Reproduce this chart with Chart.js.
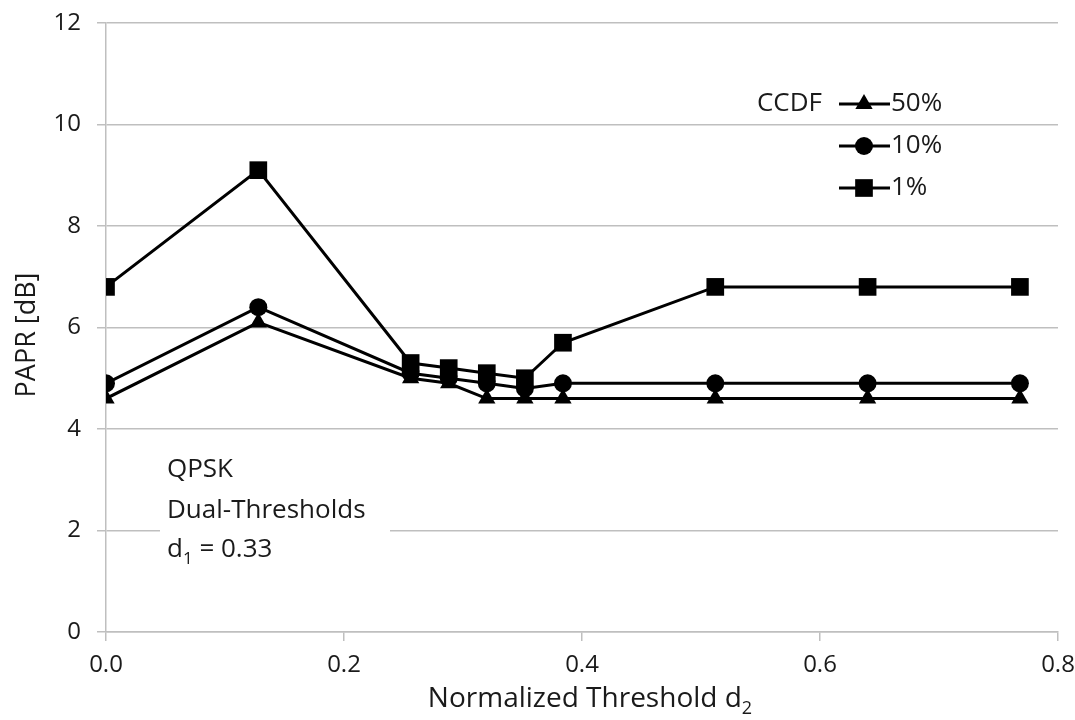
<!DOCTYPE html>
<html>
<head>
<meta charset="utf-8">
<script src="https://cdn.jsdelivr.net/npm/chart.js@4.4.1/dist/chart.umd.min.js"></script>
<style>
html,body{margin:0;padding:0;background:#fff;}
#wrap{width:1075px;height:720px;position:relative;}
</style>
</head>
<body>
<div id="wrap"><canvas id="c" width="1075" height="720"></canvas></div>
<script>
// ---- data ----
const d2 = [0, 0.128, 0.256, 0.288, 0.32, 0.352, 0.384, 0.512, 0.64, 0.768];
const ccdf50 = [4.6, 6.1, 5.0, 4.9, 4.6, 4.6, 4.6, 4.6, 4.6, 4.6];
const ccdf10 = [4.9, 6.4, 5.1, 5.0, 4.9, 4.8, 4.9, 4.9, 4.9, 4.9];
const ccdf1  = [6.8, 9.1, 5.3, 5.2, 5.1, 5.0, 5.7, 6.8, 6.8, 6.8];
const seriesLabels = ['50%', '10%', '1%'];
const xTicks = [0, 0.2, 0.4, 0.6, 0.8];
const yTicks = [0, 2, 4, 6, 8, 10, 12];
const xTitle = 'Normalized Threshold d';
const xTitleSub = '2';
const yTitle = 'PAPR [dB]';
const legendTitle = 'CCDF';
const noteLines = ['QPSK', 'Dual-Thresholds'];
const noteLast = ['d', '1', ' = 0.33'];

const FONT = '"Open Sans", Lato, sans-serif';
const TXT = '#1a1a1a';
const GRID = '#bfbfbf';

function pts(ys){ return d2.map((x,i)=>({x:x, y:ys[i]})); }

const styles = [
  {pointStyle:'triangle', r:10},
  {pointStyle:'circle', r:9},
  {pointStyle:'rect', r:12.5}
];
const datasets = [ccdf50, ccdf10, ccdf1].map((ys,i)=>({
  label: seriesLabels[i],
  data: pts(ys),
  showLine: true,
  borderColor: '#000',
  backgroundColor: '#000',
  borderWidth: 3,
  pointStyle: styles[i].pointStyle,
  pointRadius: styles[i].r,
  pointHoverRadius: styles[i].r,
  pointBorderWidth: 0,
  pointBackgroundColor: '#000',
  tension: 0
}));

const decor = {
  id: 'decor',
  afterDraw(chart){
    const ctx = chart.ctx;
    ctx.save();
    ctx.fillStyle = TXT;
    // x title with subscript
    ctx.font = '28px ' + FONT;
    const w1 = ctx.measureText(xTitle).width;
    ctx.font = '18px ' + FONT;
    const w2 = ctx.measureText(xTitleSub).width;
    const total = w1 + w2;
    const cx = 590;
    let sx = cx - total/2;
    ctx.textBaseline = 'alphabetic';
    ctx.textAlign = 'left';
    ctx.font = '28px ' + FONT;
    ctx.fillText(xTitle, sx, 707);
    ctx.font = '18px ' + FONT;
    ctx.fillText(xTitleSub, sx + w1, 714);
    // y title
    ctx.save();
    ctx.translate(35, 335);
    ctx.rotate(-Math.PI/2);
    ctx.font = '27px ' + FONT;
    ctx.textAlign = 'center';
    ctx.fillText(yTitle, 0, 0);
    ctx.restore();

    // note box (white background covering gridline)
    const bx = 160, by = 448, bw = 230, bh = 132;
    ctx.fillStyle = '#fff';
    ctx.fillRect(bx, by, bw, bh);
    ctx.fillStyle = TXT;
    ctx.font = '26px ' + FONT;
    ctx.textAlign = 'left';
    ctx.fillText(noteLines[0], 167, 477);
    ctx.fillText(noteLines[1], 167, 518);
    ctx.fillText(noteLast[0], 167, 557);
    const wd = ctx.measureText(noteLast[0]).width;
    ctx.font = '17px ' + FONT;
    ctx.fillText(noteLast[1], 167 + wd, 564);
    const ws = ctx.measureText(noteLast[1]).width;
    ctx.font = '26px ' + FONT;
    ctx.fillText(noteLast[2], 167 + wd + ws, 557);

    // legend
    ctx.textAlign = 'right';
    ctx.textBaseline = 'middle';
    ctx.fillText(legendTitle, 822, 104);
    const rowsY = [104, 146, 188];
    chart.data.datasets.forEach((ds,i)=>{
      const y = rowsY[i];
      ctx.strokeStyle = '#000';
      ctx.lineWidth = 3;
      ctx.beginPath();
      ctx.moveTo(839, y);
      ctx.lineTo(890, y);
      ctx.stroke();
      ctx.fillStyle = '#000';
      Chart.helpers.drawPoint(ctx, {pointStyle: ds.pointStyle, radius: ds.pointRadius, borderWidth: 0}, 864, y);
      ctx.fillStyle = TXT;
      ctx.textAlign = 'left';
      ctx.fillText(ds.label, 891, y);
    });
    ctx.restore();
  }
};

new Chart(document.getElementById('c'), {
  type: 'scatter',
  data: { datasets },
  plugins: [decor],
  options: {
    responsive: false,
    devicePixelRatio: 1,
    animation: false,
    events: [],
    layout: { padding: { top: 23, right: 17, left: 0, bottom: 0 } },
    plugins: { legend: { display: false }, tooltip: { enabled: false } },
    scales: {
      x: {
        type: 'linear',
        min: 0, max: 0.8,
        afterBuildTicks(s){ s.ticks = xTicks.map(v=>({value:v})); },
        afterFit(s){ s.height = 88; s.paddingLeft = 0; s.paddingRight = 0; },
        ticks: {
          callback: v => Number(v).toFixed(1),
          font: { family: FONT, size: 24 },
          color: TXT,
          padding: 10,
          maxRotation: 0
        },
        grid: { drawOnChartArea: false, drawTicks: true, tickLength: 9, color: GRID, lineWidth: 1.5 },
        border: { display: true, color: GRID, width: 1.5 }
      },
      y: {
        type: 'linear',
        min: 0, max: 12,
        afterBuildTicks(s){ s.ticks = yTicks.map(v=>({value:v})); },
        afterFit(s){ s.width = 106; s.paddingTop = 0; s.paddingBottom = 0; },
        ticks: {
          font: { family: FONT, size: 24 },
          color: TXT,
          padding: 16
        },
        grid: { drawOnChartArea: true, drawTicks: true, tickLength: 9, color: GRID, lineWidth: 1.5 },
        border: { display: true, color: GRID, width: 1.5 }
      }
    }
  }
});
</script>
</body>
</html>
